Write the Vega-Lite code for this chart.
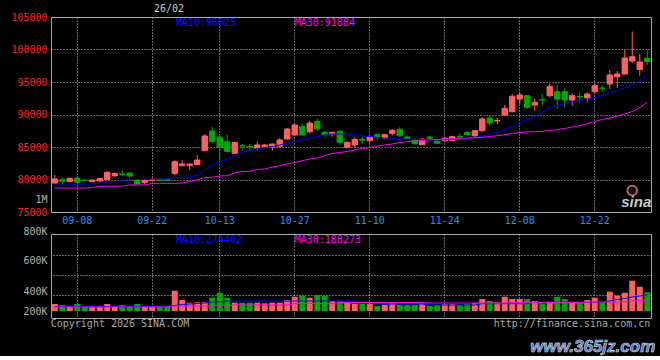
{
  "$schema": "https://vega.github.io/schema/vega-lite/v6.json",
  "background": "#000000",
  "padding": {"left": 5, "top": 3, "right": 5, "bottom": 0},
  "spacing": -1,
  "config": {
    "font": "DejaVu Sans Mono",
    "view": {"stroke": "#a8a8a8", "strokeWidth": 1},
    "axis": {"labelFont": "DejaVu Sans Mono", "labelFontSize": 10, "ticks": false, "domain": false, "gridColor": "#c8c8c8", "gridDash": [1, 2], "gridWidth": 1, "labelOverlap": false, "labelBound": false}
  },
  "datasets": {
    "k": [
      {"d":"09-03","o":79460,"h":80690,"l":79380,"c":80080,"v":119000,"m10":79150,"m30":78690,"vm10":76500,"vm30":68000},
      {"d":"09-04","o":79970,"h":80340,"l":79310,"c":79720,"v":102000,"m10":79150,"m30":78690,"vm10":76500,"vm30":68000},
      {"d":"09-05","o":79660,"h":80280,"l":79610,"c":80190,"v":85000,"m10":79150,"m30":78690,"vm10":76500,"vm30":68000},
      {"d":"09-08","o":80230,"h":80340,"l":79460,"c":79570,"v":119000,"m10":79310,"m30":78690,"vm10":76500,"vm30":68000},
      {"d":"09-09","o":79920,"h":80000,"l":79690,"c":79850,"v":73000,"m10":79310,"m30":78690,"vm10":76500,"vm30":68000},
      {"d":"09-10","o":79660,"h":80000,"l":79610,"c":79920,"v":85000,"m10":79310,"m30":78770,"vm10":76500,"vm30":68000},
      {"d":"09-11","o":79770,"h":80230,"l":79690,"c":80150,"v":85000,"m10":79460,"m30":78950,"vm10":76500,"vm30":68000},
      {"d":"09-12","o":79970,"h":81230,"l":79920,"c":81110,"v":119000,"m10":79660,"m30":78950,"vm10":76500,"vm30":68000},
      {"d":"09-15","o":80580,"h":81110,"l":80380,"c":80920,"v":73000,"m10":79660,"m30":78950,"vm10":76500,"vm30":68000},
      {"d":"09-16","o":80850,"h":81380,"l":80490,"c":80760,"v":102000,"m10":79920,"m30":79000,"vm10":76500,"vm30":68000},
      {"d":"09-17","o":81000,"h":81110,"l":80280,"c":80540,"v":73000,"m10":79970,"m30":79150,"vm10":76500,"vm30":68000},
      {"d":"09-18","o":80000,"h":80080,"l":79260,"c":79310,"v":119000,"m10":80030,"m30":79150,"vm10":76500,"vm30":68000},
      {"d":"09-19","o":79540,"h":80080,"l":79310,"c":79850,"v":73000,"m10":80030,"m30":79150,"vm10":76500,"vm30":68000},
      {"d":"09-22","o":79850,"h":80190,"l":79690,"c":80030,"v":85000,"m10":80030,"m30":79410,"vm10":76500,"vm30":68000},
      {"d":"09-23","o":80050,"h":80120,"l":79770,"c":79880,"v":85000,"m10":80030,"m30":79410,"vm10":76500,"vm30":68000},
      {"d":"09-24","o":80000,"h":80080,"l":79770,"c":79850,"v":73000,"m10":80080,"m30":79410,"vm10":76500,"vm30":68000},
      {"d":"09-25","o":80920,"h":83000,"l":80690,"c":82740,"v":345000,"m10":80310,"m30":79410,"vm10":93500,"vm30":85000},
      {"d":"09-26","o":82120,"h":83000,"l":82080,"c":82380,"v":187000,"m10":80340,"m30":79460,"vm10":110500,"vm30":85000},
      {"d":"09-29","o":82120,"h":82460,"l":81460,"c":82380,"v":141000,"m10":80380,"m30":79720,"vm10":119000,"vm30":85000},
      {"d":"09-30","o":82280,"h":83770,"l":82230,"c":83000,"v":148000,"m10":80690,"m30":79920,"vm10":127500,"vm30":85000},
      {"d":"10-09","o":84430,"h":87000,"l":84380,"c":86690,"v":153000,"m10":81310,"m30":80310,"vm10":136000,"vm30":85000},
      {"d":"10-10","o":87460,"h":88080,"l":85720,"c":85820,"v":226000,"m10":82230,"m30":80340,"vm10":153000,"vm30":85000},
      {"d":"10-13","o":86540,"h":86890,"l":82540,"c":84950,"v":311000,"m10":82690,"m30":80540,"vm10":161500,"vm30":85000},
      {"d":"10-14","o":85820,"h":86850,"l":84230,"c":84310,"v":226000,"m10":83110,"m30":80580,"vm10":170000,"vm30":85000},
      {"d":"10-15","o":84030,"h":85820,"l":83920,"c":85690,"v":141000,"m10":83620,"m30":81000,"vm10":170000,"vm30":102000},
      {"d":"10-16","o":85230,"h":85460,"l":84380,"c":85150,"v":141000,"m10":84120,"m30":81230,"vm10":170000,"vm30":102000},
      {"d":"10-17","o":85080,"h":85460,"l":84430,"c":85000,"v":141000,"m10":84540,"m30":81260,"vm10":170000,"vm30":102000},
      {"d":"10-20","o":84800,"h":85820,"l":84540,"c":85310,"v":141000,"m10":84740,"m30":81540,"vm10":170000,"vm30":102000},
      {"d":"10-21","o":84950,"h":85460,"l":84800,"c":85310,"v":131000,"m10":84920,"m30":81620,"vm10":170000,"vm30":102000},
      {"d":"10-22","o":85110,"h":85500,"l":84430,"c":85460,"v":141000,"m10":85080,"m30":81920,"vm10":170000,"vm30":102000},
      {"d":"10-23","o":85110,"h":86380,"l":84950,"c":86080,"v":141000,"m10":85310,"m30":82120,"vm10":170000,"vm30":102000},
      {"d":"10-24","o":86230,"h":87920,"l":86150,"c":87770,"v":187000,"m10":85570,"m30":82380,"vm10":170000,"vm30":102000},
      {"d":"10-27","o":86850,"h":88650,"l":86770,"c":88380,"v":243000,"m10":85850,"m30":82620,"vm10":170000,"vm30":127500},
      {"d":"10-28","o":88120,"h":88540,"l":86740,"c":86850,"v":260000,"m10":86120,"m30":82890,"vm10":170000,"vm30":127500},
      {"d":"10-29","o":87350,"h":89050,"l":87110,"c":88690,"v":226000,"m10":86380,"m30":83150,"vm10":170000,"vm30":127500},
      {"d":"10-30","o":88950,"h":89310,"l":87510,"c":87770,"v":272000,"m10":86620,"m30":83310,"vm10":170000,"vm30":127500},
      {"d":"10-31","o":87260,"h":87510,"l":86580,"c":86890,"v":255000,"m10":86850,"m30":83660,"vm10":170000,"vm30":127500},
      {"d":"11-03","o":87000,"h":87380,"l":86580,"c":87260,"v":170000,"m10":87000,"m30":84000,"vm10":170000,"vm30":127500},
      {"d":"11-04","o":87420,"h":87510,"l":85570,"c":85720,"v":175000,"m10":87000,"m30":84150,"vm10":170000,"vm30":144500},
      {"d":"11-05","o":84950,"h":85820,"l":84800,"c":85720,"v":141000,"m10":87000,"m30":84310,"vm10":170000,"vm30":144500},
      {"d":"11-06","o":85310,"h":86490,"l":84950,"c":86180,"v":119000,"m10":86950,"m30":84540,"vm10":170000,"vm30":144500},
      {"d":"11-07","o":86180,"h":86490,"l":85460,"c":86030,"v":119000,"m10":86690,"m30":84770,"vm10":153000,"vm30":144500},
      {"d":"11-10","o":85970,"h":86740,"l":85570,"c":86580,"v":119000,"m10":86620,"m30":84920,"vm10":153000,"vm30":144500},
      {"d":"11-11","o":86890,"h":87000,"l":86080,"c":86490,"v":85000,"m10":86490,"m30":85150,"vm10":119000,"vm30":144500},
      {"d":"11-12","o":86380,"h":87000,"l":86230,"c":86890,"v":102000,"m10":86380,"m30":85310,"vm10":119000,"vm30":144500},
      {"d":"11-13","o":87110,"h":87770,"l":86740,"c":87570,"v":131000,"m10":86340,"m30":85460,"vm10":119000,"vm30":144500},
      {"d":"11-14","o":87720,"h":88030,"l":86580,"c":86740,"v":102000,"m10":86230,"m30":85690,"vm10":119000,"vm30":144500},
      {"d":"11-17","o":86540,"h":86770,"l":86230,"c":86280,"v":102000,"m10":86230,"m30":85820,"vm10":119000,"vm30":144500},
      {"d":"11-18","o":86030,"h":86340,"l":85350,"c":85510,"v":102000,"m10":86180,"m30":85920,"vm10":119000,"vm30":144500},
      {"d":"11-19","o":85350,"h":86280,"l":85310,"c":86230,"v":119000,"m10":86150,"m30":86000,"vm10":119000,"vm30":144500},
      {"d":"11-20","o":86540,"h":86740,"l":86230,"c":86340,"v":90000,"m10":86120,"m30":86080,"vm10":102000,"vm30":136000},
      {"d":"11-21","o":85920,"h":86230,"l":85460,"c":85570,"v":102000,"m10":86080,"m30":86150,"vm10":102000,"vm30":136000},
      {"d":"11-24","o":85970,"h":86580,"l":85720,"c":86340,"v":119000,"m10":86120,"m30":86230,"vm10":102000,"vm30":136000},
      {"d":"11-25","o":85970,"h":86740,"l":85920,"c":86580,"v":119000,"m10":86180,"m30":86280,"vm10":102000,"vm30":136000},
      {"d":"11-26","o":86650,"h":87110,"l":86120,"c":86550,"v":102000,"m10":86230,"m30":86340,"vm10":102000,"vm30":136000},
      {"d":"11-27","o":87230,"h":87460,"l":86690,"c":86920,"v":119000,"m10":86340,"m30":86380,"vm10":102000,"vm30":136000},
      {"d":"11-28","o":86740,"h":87570,"l":86490,"c":87510,"v":131000,"m10":86490,"m30":86430,"vm10":102000,"vm30":136000},
      {"d":"12-01","o":87510,"h":89570,"l":87260,"c":89310,"v":204000,"m10":86620,"m30":86490,"vm10":124100,"vm30":136000},
      {"d":"12-02","o":89460,"h":89920,"l":88280,"c":88690,"v":170000,"m10":86920,"m30":86620,"vm10":124100,"vm30":136000},
      {"d":"12-03","o":89000,"h":89460,"l":88540,"c":89090,"v":148000,"m10":87310,"m30":86740,"vm10":124100,"vm30":136000},
      {"d":"12-04","o":89920,"h":91460,"l":89810,"c":90950,"v":243000,"m10":87690,"m30":86890,"vm10":124100,"vm30":136000},
      {"d":"12-05","o":90430,"h":93150,"l":90340,"c":92800,"v":204000,"m10":88150,"m30":87080,"vm10":124100,"vm30":144500},
      {"d":"12-08","o":92380,"h":93420,"l":91620,"c":93000,"v":204000,"m10":88770,"m30":87200,"vm10":124100,"vm30":144500},
      {"d":"12-09","o":92890,"h":93000,"l":90850,"c":91110,"v":204000,"m10":89230,"m30":87310,"vm10":124100,"vm30":144500},
      {"d":"12-10","o":91460,"h":92380,"l":90580,"c":91880,"v":170000,"m10":89690,"m30":87350,"vm10":147900,"vm30":144500},
      {"d":"12-11","o":92310,"h":93150,"l":91350,"c":92230,"v":124000,"m10":90310,"m30":87420,"vm10":147900,"vm30":144500},
      {"d":"12-12","o":92890,"h":94690,"l":92650,"c":94310,"v":158000,"m10":91000,"m30":87540,"vm10":147900,"vm30":144500},
      {"d":"12-15","o":93510,"h":94540,"l":90850,"c":92380,"v":243000,"m10":91380,"m30":87690,"vm10":147900,"vm30":144500},
      {"d":"12-16","o":93510,"h":94080,"l":91110,"c":92230,"v":204000,"m10":91690,"m30":87850,"vm10":147900,"vm30":144500},
      {"d":"12-17","o":92230,"h":93260,"l":91350,"c":92890,"v":158000,"m10":91920,"m30":88080,"vm10":147900,"vm30":144500},
      {"d":"12-18","o":92800,"h":93420,"l":91880,"c":92720,"v":158000,"m10":92150,"m30":88280,"vm10":147900,"vm30":144500},
      {"d":"12-19","o":92540,"h":93420,"l":91880,"c":93150,"v":187000,"m10":92380,"m30":88620,"vm10":147900,"vm30":153000},
      {"d":"12-22","o":93510,"h":94690,"l":93150,"c":94430,"v":226000,"m10":92540,"m30":88920,"vm10":147900,"vm30":153000},
      {"d":"12-23","o":94080,"h":94430,"l":93510,"c":93990,"v":148000,"m10":92920,"m30":89230,"vm10":153000,"vm30":153000},
      {"d":"12-24","o":94690,"h":96850,"l":93920,"c":96080,"v":328000,"m10":93310,"m30":89460,"vm10":170000,"vm30":153000},
      {"d":"12-25","o":95810,"h":96690,"l":94080,"c":96230,"v":260000,"m10":93690,"m30":89770,"vm10":195500,"vm30":153000},
      {"d":"12-26","o":96230,"h":99920,"l":96150,"c":98690,"v":311000,"m10":94080,"m30":90080,"vm10":212500,"vm30":161500},
      {"d":"12-29","o":98230,"h":102770,"l":97920,"c":98890,"v":515000,"m10":94620,"m30":90460,"vm10":238000,"vm30":170000},
      {"d":"12-30","o":96920,"h":99310,"l":95970,"c":98080,"v":413000,"m10":95230,"m30":91030,"vm10":255000,"vm30":178500},
      {"d":"12-31","o":98650,"h":99920,"l":97620,"c":98120,"v":318000,"m10":96025,"m30":91884,"vm10":274402,"vm30":188273}
    ]
  },
  "vconcat": [
    {
      "width": 600,
      "height": 195,
      "title": {"text": "26/02", "anchor": "start", "frame": "group", "dx": 103, "fontSize": 10, "font": "DejaVu Sans Mono", "fontWeight": "normal", "color": "#c8c8c8", "offset": -2},
      "data": {"name": "k"},
      "encoding": {
        "x": {
          "field": "d", "type": "ordinal", "sort": null,
          "scale": {"type": "band", "paddingInner": 0, "paddingOuter": 0},
          "axis": {"title": null, "values": ["09-08", "09-22", "10-13", "10-27", "11-10", "11-24", "12-08", "12-22"], "labelAngle": 0, "labelColor": "#2090f0", "labelPadding": 3, "grid": true, "bandPosition": 0.5, "labelOverlap": false}
        }
      },
      "layer": [
        {
          "mark": {"type": "rule", "strokeWidth": 1},
          "encoding": {
            "y": {
              "field": "l", "type": "quantitative",
              "scale": {"domain": [75000, 105000], "nice": false, "zero": false},
              "axis": {
                "title": null,
                "values": [75000, 77000, 80000, 85000, 90000, 95000, 100000, 105000],
                "format": "d",
                "labelExpr": "datum.value == 77000 ? '1M' : datum.label",
                "labelColor": {"condition": {"test": "datum.value == 77000", "value": "#b0b0b0"}, "value": "#ff2020"},
                "gridOpacity": {"condition": {"test": "datum.value == 77000 || datum.value == 75000 || datum.value == 105000", "value": 0}, "value": 1},
                "labelPadding": 4, "minExtent": 45, "maxExtent": 45, "labelOverlap": false
              }
            },
            "y2": {"field": "h"},
            "color": {"condition": {"test": "datum.c >= datum.o", "value": "#ff6060"}, "value": "#00a800"}
          }
        },
        {
          "mark": {"type": "bar", "width": {"band": 0.72}, "strokeWidth": 1},
          "encoding": {
            "y": {"field": "o", "type": "quantitative", "axis": null},
            "y2": {"field": "c"},
            "color": {"condition": {"test": "datum.c >= datum.o", "value": "#ff6060"}, "value": "#00a800"},
            "stroke": {"condition": {"test": "datum.c >= datum.o", "value": "#ff6060"}, "value": "#00a800"}
          }
        },
        {
          "mark": {"type": "line", "color": "#0000ff", "strokeWidth": 1},
          "encoding": {"y": {"field": "m10", "type": "quantitative", "axis": null}}
        },
        {
          "mark": {"type": "line", "color": "#ff00ff", "strokeWidth": 1},
          "encoding": {"y": {"field": "m30", "type": "quantitative", "axis": null}}
        },
        {
          "data": {"values": [{}]},
          "mark": {"type": "text", "text": "MA10:96025", "align": "left", "baseline": "top", "dx": 1, "dy": 1, "fontSize": 10, "font": "DejaVu Sans Mono", "color": "#1010ff"},
          "encoding": {"x": {"datum": "09-25"}, "y": {"datum": 105000, "axis": null}}
        },
        {
          "data": {"values": [{}]},
          "mark": {"type": "text", "text": "MA30:91884", "align": "left", "baseline": "top", "dx": 0, "dy": 1, "fontSize": 10, "font": "DejaVu Sans Mono", "color": "#ff00ff"},
          "encoding": {"x": {"datum": "10-27"}, "y": {"datum": 105000, "axis": null}}
        },
        {
          "data": {"values": [{}]},
          "mark": {"type": "point", "shape": "circle", "filled": false, "size": 90, "stroke": "#ff9090", "strokeWidth": 2},
          "encoding": {"x": {"datum": "12-29"}, "y": {"datum": 78300, "axis": null}}
        },
        {
          "data": {"values": [{}]},
          "mark": {"type": "text", "text": "sina", "align": "center", "baseline": "middle", "dx": 4, "fontSize": 15, "font": "Liberation Sans", "fontStyle": "italic", "fontWeight": "bold", "color": "#c8c8c8"},
          "encoding": {"x": {"datum": "12-29"}, "y": {"datum": 76600, "axis": null}}
        }
      ],
      "resolve": {"axis": {"y": "independent"}}
    },
    {
      "width": 600,
      "height": 84,
      "data": {"name": "k"},
      "encoding": {
        "x": {
          "field": "d", "type": "ordinal", "sort": null,
          "scale": {"type": "band", "paddingInner": 0, "paddingOuter": 0},
          "axis": {"title": null, "values": ["09-08", "09-22", "10-13", "10-27", "11-10", "11-24", "12-08", "12-22"], "labels": false, "grid": true, "bandPosition": 0.5, "minExtent": 0, "maxExtent": 0}
        }
      },
      "layer": [
        {
          "mark": {"type": "bar", "width": {"band": 0.8}},
          "encoding": {
            "y": {
              "field": "v", "type": "quantitative",
              "scale": {"domain": [-119000, 1309000], "nice": false, "zero": false},
              "axis": {
                "title": null, "orient": "left", "grid": false,
                "values": [0, 340000, 867000, 1309000],
                "labelExpr": "datum.value > 1000000 ? '800K' : datum.value > 600000 ? '600K' : datum.value > 200000 ? '400K' : '200K'",
                "labelOffset": {"condition": {"test": "datum.value > 1000000", "value": -3}, "value": 0},
                "labelColor": "#b0b0b0", "labelPadding": 4, "minExtent": 45, "maxExtent": 45, "labelOverlap": false
              }
            },
            "y2": {"datum": 0},
            "color": {"condition": {"test": "datum.c >= datum.o", "value": "#ff6060"}, "value": "#00a800"}
          }
        },
        {
          "mark": {"type": "line", "color": "#0000ff", "strokeWidth": 1},
          "encoding": {
            "y": {
              "field": "vm10", "type": "quantitative",
              "axis": {"title": null, "orient": "right", "labels": false, "grid": true, "values": [272000, 612000, 952000], "minExtent": 0, "maxExtent": 0}
            }
          }
        },
        {
          "mark": {"type": "line", "color": "#ff00ff", "strokeWidth": 1},
          "encoding": {"y": {"field": "vm30", "type": "quantitative", "axis": null}}
        },
        {
          "data": {"values": [{}]},
          "mark": {"type": "text", "text": "MA10:274402", "align": "left", "baseline": "top", "dx": 1, "dy": 1, "fontSize": 10, "font": "DejaVu Sans Mono", "color": "#1010ff"},
          "encoding": {"x": {"datum": "09-25"}, "y": {"datum": 1309000, "axis": null}}
        },
        {
          "data": {"values": [{}]},
          "mark": {"type": "text", "text": "MA30:188273", "align": "left", "baseline": "top", "dx": 0, "dy": 1, "fontSize": 10, "font": "DejaVu Sans Mono", "color": "#ff00ff"},
          "encoding": {"x": {"datum": "10-27"}, "y": {"datum": 1309000, "axis": null}}
        },
        {
          "data": {"values": [{}]},
          "mark": {"type": "text", "text": "Copyright 2026 SINA.COM", "align": "left", "baseline": "top", "dx": -4, "dy": 1, "fontSize": 10, "font": "DejaVu Sans Mono", "color": "#a8a8a8"},
          "encoding": {"x": {"datum": "09-03"}, "y": {"datum": -119000, "axis": null}}
        },
        {
          "data": {"values": [{}]},
          "mark": {"type": "text", "text": "http://finance.sina.com.cn", "align": "right", "baseline": "top", "dx": 3, "dy": 1, "fontSize": 10, "font": "DejaVu Sans Mono", "color": "#a8a8a8"},
          "encoding": {"x": {"datum": "12-31"}, "y": {"datum": -119000, "axis": null}}
        },
        {
          "data": {"values": [{}]},
          "mark": {"type": "text", "text": "www.365jz.com", "align": "right", "baseline": "middle", "dx": 8, "dy": 29, "fontSize": 17, "font": "Liberation Sans", "fontStyle": "italic", "fontWeight": "bold", "color": "#5577aa", "stroke": "#d0dcf0", "strokeWidth": 0.6},
          "encoding": {"x": {"datum": "12-31"}, "y": {"datum": -119000, "axis": null}}
        }
      ],
      "resolve": {"axis": {"y": "independent"}}
    }
  ]
}
